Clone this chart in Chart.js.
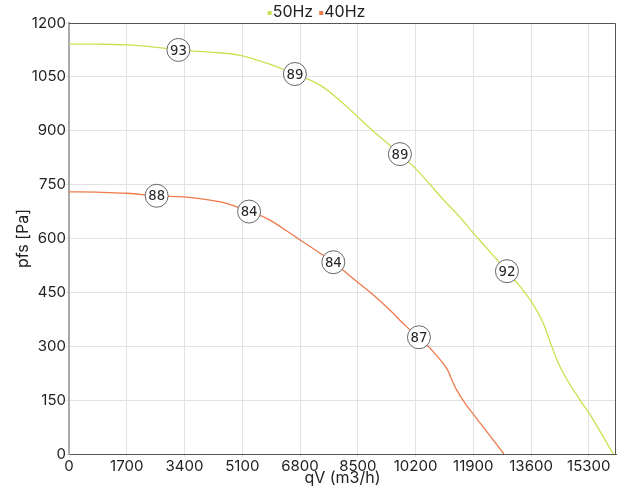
<!DOCTYPE html>
<html>
<head>
<meta charset="utf-8">
<script src="https://cdn.jsdelivr.net/npm/chart.js@4.4.1/dist/chart.umd.min.js"></script>
<style>
    html, body { margin: 0; padding: 0; background: #ffffff; }
    #wrap { width: 617px; height: 490px; }
</style>
</head>
<body>
<div id="wrap"><canvas id="fanChart" width="617" height="490"></canvas></div>
<script>
// 50Hz curve
const qv50 = [0, 800, 1700, 2500, 3220, 4150, 5030, 5820, 6650, 7390, 8080, 8800, 9740, 10240, 11000, 11500, 11900, 12400, 12890, 13280, 13670, 13960, 14210, 14500, 15040, 15340, 16020];
const pfs50 = [1141, 1141, 1139, 1133, 1125, 1119, 1110, 1088, 1058, 1027, 975, 912, 835, 791, 710, 660, 615, 562, 509, 466, 415, 364, 299, 234, 150, 109, 0];

// 40Hz curve
const qv40 = [0, 800, 1700, 2580, 3450, 4150, 4640, 5300, 5820, 6300, 6800, 7390, 7780, 8470, 8960, 9450, 9940, 10300, 10720, 11120, 11260, 11400, 11660, 11900, 12200, 12800];
const pfs40 = [730, 729, 726, 719, 715, 707, 698, 675, 656, 628, 596, 559, 534, 480, 443, 400, 354, 325, 285, 238, 208, 180, 141, 111, 74, 0];

// efficiency markers
const eff50Qv = [3220, 6650, 9740, 12890];
const eff50Pfs = [1125, 1058, 835, 509];
const eff50Txt = ['93', '89', '89', '92'];
const eff40Qv = [2580, 5300, 7780, 10300];
const eff40Pfs = [719, 675, 534, 325];
const eff40Txt = ['88', '84', '84', '87'];

// axis ticks
const qvTicks = [0, 1700, 3400, 5100, 6800, 8500, 10200, 11900, 13600, 15300];
const pfsTicks = [0, 150, 300, 450, 600, 750, 900, 1050, 1200];

const seriesNames = ['50Hz', '40Hz'];
const seriesColors = ['#cbe152', '#ee7a4c'];

const fontMain = 'Inter, "Noto Sans", sans-serif';

function toPoints(xs, ys) {
    return xs.map((x, i) => ({ x: x, y: ys[i] }));
}

const frameLines = {
    id: 'frameLines',
    afterDraw(chart) {
        const a = chart.chartArea;
        const c = chart.ctx;
        c.save();
        c.strokeStyle = '#555555';
        c.lineWidth = 1;
        c.beginPath();
        c.moveTo(a.left, a.top + 0.5);
        c.lineTo(a.right - 0.5, a.top + 0.5);
        c.lineTo(a.right - 0.5, a.bottom);
        c.stroke();
        c.restore();
    }
};

const topLegend = {
    id: 'topLegend',
    afterDraw(chart) {
        const c = chart.ctx;
        c.save();
        c.font = '16px ' + fontMain;
        c.textBaseline = 'middle';
        c.textAlign = 'left';
        const box = 4, gap = 1, itemGap = 6;
        const widths = seriesNames.map(n => box + gap + c.measureText(n).width);
        const total = widths.reduce((s, w) => s + w, 0) + itemGap * (widths.length - 1);
        let x = chart.width / 2 + 8 - total / 2;
        const y = 12;
        seriesNames.forEach((name, i) => {
            c.fillStyle = seriesColors[i];
            c.fillRect(x, y - 1, box, box);
            c.fillStyle = '#222222';
            c.fillText(name, x + box + gap, y);
            x += widths[i] + itemGap;
        });
        c.restore();
    }
};

const effLabels = {
    id: 'effLabels',
    afterDatasetsDraw(chart) {
        const c = chart.ctx;
        c.save();
        c.font = '14px "DejaVu Sans Mono", monospace';
        c.fillStyle = '#222222';
        c.textAlign = 'center';
        c.textBaseline = 'middle';
        chart.data.datasets.forEach((ds, i) => {
            if (!ds.texts) return;
            chart.getDatasetMeta(i).data.forEach((pt, j) => {
                c.fillText(ds.texts[j], pt.x, pt.y + 1);
            });
        });
        c.restore();
    }
};

function initFanChart() {
    const ctx = document.getElementById('fanChart');

    const lineBase = {
        showLine: true,
        borderWidth: 1.3,
        pointRadius: 0,
        pointHoverRadius: 0,
        tension: 0.4,
        order: 2
    };
    const markBase = {
        showLine: false,
        pointRadius: 11.5,
        pointHoverRadius: 11.5,
        pointBackgroundColor: '#ffffff',
        pointBorderColor: '#666666',
        pointBorderWidth: 1,
        order: 1
    };

    const data = {
        datasets: [
            Object.assign({}, lineBase, {
                label: seriesNames[0],
                data: toPoints(qv50, pfs50),
                borderColor: seriesColors[0],
                backgroundColor: seriesColors[0]
            }),
            Object.assign({}, lineBase, {
                label: seriesNames[1],
                data: toPoints(qv40, pfs40),
                borderColor: seriesColors[1],
                backgroundColor: seriesColors[1]
            }),
            Object.assign({}, markBase, {
                label: 'eff50',
                data: toPoints(eff50Qv, eff50Pfs),
                texts: eff50Txt
            }),
            Object.assign({}, markBase, {
                label: 'eff40',
                data: toPoints(eff40Qv, eff40Pfs),
                texts: eff40Txt
            })
        ]
    };

    const options = {
        responsive: false,
        animation: false,
        layout: { autoPadding: false, padding: { left: 0, right: 1, top: 23, bottom: 0 } },
        plugins: {
            legend: { display: false },
            tooltip: { enabled: false }
        },
        scales: {
            x: {
                type: 'linear',
                min: 0,
                max: 16100,
                afterFit: s => { s.height = 36; s.paddingRight = 0; s.paddingLeft = 0; },
                afterBuildTicks: s => { s.ticks = qvTicks.map(v => ({ value: v })); },
                ticks: {
                    autoSkip: false,
                    maxRotation: 0,
                    padding: 0,
                    color: '#222222',
                    font: { family: fontMain, size: 15 },
                    callback: v => String(v)
                },
                grid: { color: '#e2e2e2', tickLength: 3 },
                border: { color: '#555555', width: 1 },
                title: {
                    display: true,
                    text: 'qV (m3/h)',
                    color: '#222222',
                    padding: { top: 2, bottom: 2 },
                    font: { family: fontMain, size: 16 }
                }
            },
            y: {
                type: 'linear',
                min: 0,
                max: 1200,
                afterFit: s => { s.width = 69; },
                afterBuildTicks: s => { s.ticks = pfsTicks.map(v => ({ value: v })); },
                ticks: {
                    padding: 0,
                    color: '#222222',
                    font: { family: fontMain, size: 15 },
                    callback: v => String(v)
                },
                grid: { color: '#e2e2e2', tickLength: 3 },
                border: { color: '#aaaaaa', width: 2 },
                title: {
                    display: true,
                    text: 'pfs [Pa]',
                    color: '#222222',
                    padding: { top: 14, bottom: 0 },
                    font: { family: fontMain, size: 16 }
                }
            }
        }
    };

    new Chart(ctx, {
        type: 'scatter',
        data: data,
        options: options,
        plugins: [frameLines, topLegend, effLabels]
    });
}

document.addEventListener('DOMContentLoaded', initFanChart);
</script>
</body>
</html>
